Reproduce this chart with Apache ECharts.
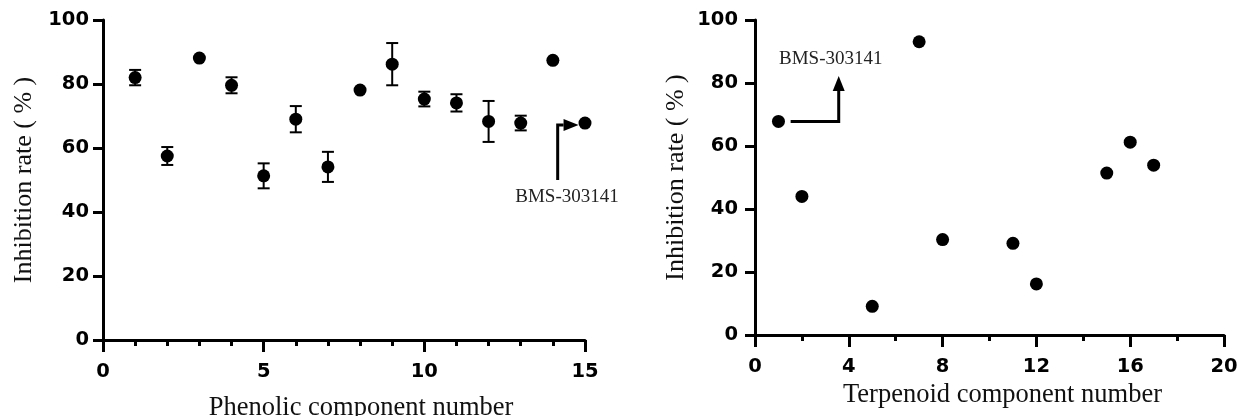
<!DOCTYPE html>
<html>
<head>
<meta charset="utf-8">
<script src="https://cdn.jsdelivr.net/npm/echarts@6/dist/echarts.min.js"></script>
<style>html,body{margin:0;padding:0;background:#fff;}#c{width:1239px;height:416px;}</style>
</head>
<body>
<div id="c"></div>
<script>
// Phenolic components (left panel)
var phenolicX = [1,2,3,4,5,6,7,8,9,10,11,12,13,14,15];
var phenolicY = [82.0,57.5,88.1,79.6,51.3,69.0,54.1,78.1,86.2,75.3,74.1,68.3,67.8,87.4,67.8];
var phenolicErr = [2.4,2.8,0,2.5,3.9,4.1,4.7,0,6.6,2.3,2.7,6.4,2.3,0,0];
// Terpenoid components (right panel)
var terpX = [1,2,5,7,8,11,12,15,16,17];
var terpY = [67.8,44.0,9.1,93.1,30.3,29.1,16.2,51.4,61.2,53.9];
// Annotations (data coordinates)
var leftArrowPath = [[14.15,50],[14.15,67.2],[14.8,67.2]];
var leftLabelPos = [14.44,44.6];
var rightArrowPath = [[1.52,67.8],[3.57,67.8],[3.57,82.2]];
var rightLabelPos = [3.23,87.7];
var annotationText = 'BMS-303141';
// Axis text
var leftXName = 'Phenolic component number';
var rightXName = 'Terpenoid component number';
var yName = 'Inhibition rate ( % )';

var serif = '"Liberation Serif","Times New Roman",serif';
var sans = '"DejaVu Sans",sans-serif';

function xAxisCfg(gi, max, interval, minorSplit, name, gap, pad){
  return {
    gridIndex: gi, type:'value', min:0, max:max, interval:interval,
    name:name, nameLocation:'middle', nameGap:gap,
    nameTextStyle:{fontFamily:serif, fontSize:26.5, color:'#111', padding:pad},
    axisLine:{lineStyle:{color:'#000', width:3}},
    axisTick:{length:12, lineStyle:{color:'#000', width:3}},
    minorTick:{show:true, splitNumber:minorSplit, length:6, lineStyle:{color:'#000', width:3}},
    axisLabel:{fontFamily:sans, fontWeight:'bold', fontSize:19.5, color:'#000', margin:22},
    splitLine:{show:false}, minorSplitLine:{show:false}
  };
}
function yAxisCfg(gi, gap, margin){
  return {
    gridIndex: gi, type:'value', min:0, max:100, interval:20,
    name:yName, nameLocation:'middle', nameGap:gap, nameRotate:90,
    nameTextStyle:{fontFamily:serif, fontSize:26, color:'#111', padding:[0,0,0,0]},
    axisLine:{show:true, lineStyle:{color:'#000', width:3}},
    axisTick:{show:true, length:10, lineStyle:{color:'#000', width:3}},
    axisLabel:{fontFamily:sans, fontWeight:'bold', fontSize:19.5, color:'#000', margin:margin},
    splitLine:{show:false}
  };
}

function errData(){
  var d=[];
  for(var i=0;i<phenolicX.length;i++){
    if(phenolicErr[i]>0) d.push([phenolicX[i], phenolicY[i]-phenolicErr[i], phenolicY[i]+phenolicErr[i]]);
  }
  return d;
}
function renderErr(params, api){
  var x=api.value(0), lo=api.coord([x, api.value(1)]), hi=api.coord([x, api.value(2)]);
  var hw=6;
  var st={stroke:'#000', lineWidth:2};
  return {type:'group', children:[
    {type:'line', shape:{x1:lo[0],y1:lo[1],x2:hi[0],y2:hi[1]}, style:st},
    {type:'line', shape:{x1:lo[0]-hw,y1:lo[1],x2:lo[0]+hw,y2:lo[1]}, style:st},
    {type:'line', shape:{x1:hi[0]-hw,y1:hi[1],x2:hi[0]+hw,y2:hi[1]}, style:st}
  ]};
}
function arrowRenderer(path){
  return function(params, api){
    var pts = path.map(function(p){return api.coord(p);});
    var n=pts.length, tip=pts[n-1], prev=pts[n-2];
    var dx=tip[0]-prev[0], dy=tip[1]-prev[1], L=Math.sqrt(dx*dx+dy*dy);
    var ux=dx/L, uy=dy/L, hl=15, hw=6;
    var bx=tip[0]-ux*hl, by=tip[1]-uy*hl;
    var linePts = pts.slice(0,n-1).concat([[bx,by]]);
    return {type:'group', children:[
      {type:'polyline', shape:{points:linePts}, style:{stroke:'#000', lineWidth:3, fill:null, lineJoin:'miter'}},
      {type:'polygon', shape:{points:[[tip[0],tip[1]],[bx-uy*hw,by+ux*hw],[bx+uy*hw,by-ux*hw]]}, style:{fill:'#000'}}
    ]};
  };
}
function renderLabel(params, api){
  var p=api.coord([api.value(0), api.value(1)]);
  return {type:'text', x:p[0], y:p[1], style:{text:annotationText, fontFamily:serif, fontSize:19, fill:'#222', align:'center', verticalAlign:'middle'}};
}

var chart = echarts.init(document.getElementById('c'), null, {renderer:'canvas'});
chart.setOption({
  backgroundColor:'#fff',
  animation:false,
  grid:[
    {left:103, right:654, top:20, bottom:76, outerBoundsMode:'none', containLabel:false},
    {left:755, right:15, top:20, bottom:81, outerBoundsMode:'none', containLabel:false}
  ],
  xAxis:[
    xAxisCfg(0, 15, 5, 5, leftXName, 55, [0,0,0,34]),
    xAxisCfg(1, 20, 4, 2, rightXName, 47, [0,0,0,26])
  ],
  yAxis:[ yAxisCfg(0, 66, 14), yAxisCfg(1, 66, 17) ],
  series:[
    {type:'custom', xAxisIndex:0, yAxisIndex:0, renderItem:renderErr, data:errData(), z:2},
    {type:'scatter', xAxisIndex:0, yAxisIndex:0, symbol:'circle', symbolSize:13,
      itemStyle:{color:'#000', opacity:1}, data:phenolicX.map(function(x,i){return [x, phenolicY[i]];}), z:3},
    {type:'scatter', xAxisIndex:1, yAxisIndex:1, symbol:'circle', symbolSize:13,
      itemStyle:{color:'#000', opacity:1}, data:terpX.map(function(x,i){return [x, terpY[i]];}), z:3},
    {type:'custom', xAxisIndex:0, yAxisIndex:0, renderItem:arrowRenderer(leftArrowPath), data:[[0,0]], clip:false, z:4},
    {type:'custom', xAxisIndex:1, yAxisIndex:1, renderItem:arrowRenderer(rightArrowPath), data:[[0,0]], clip:false, z:4},
    {type:'custom', xAxisIndex:0, yAxisIndex:0, renderItem:renderLabel, data:[leftLabelPos], clip:false, z:4},
    {type:'custom', xAxisIndex:1, yAxisIndex:1, renderItem:renderLabel, data:[rightLabelPos], clip:false, z:4}
  ]
});
</script>
</body>
</html>
